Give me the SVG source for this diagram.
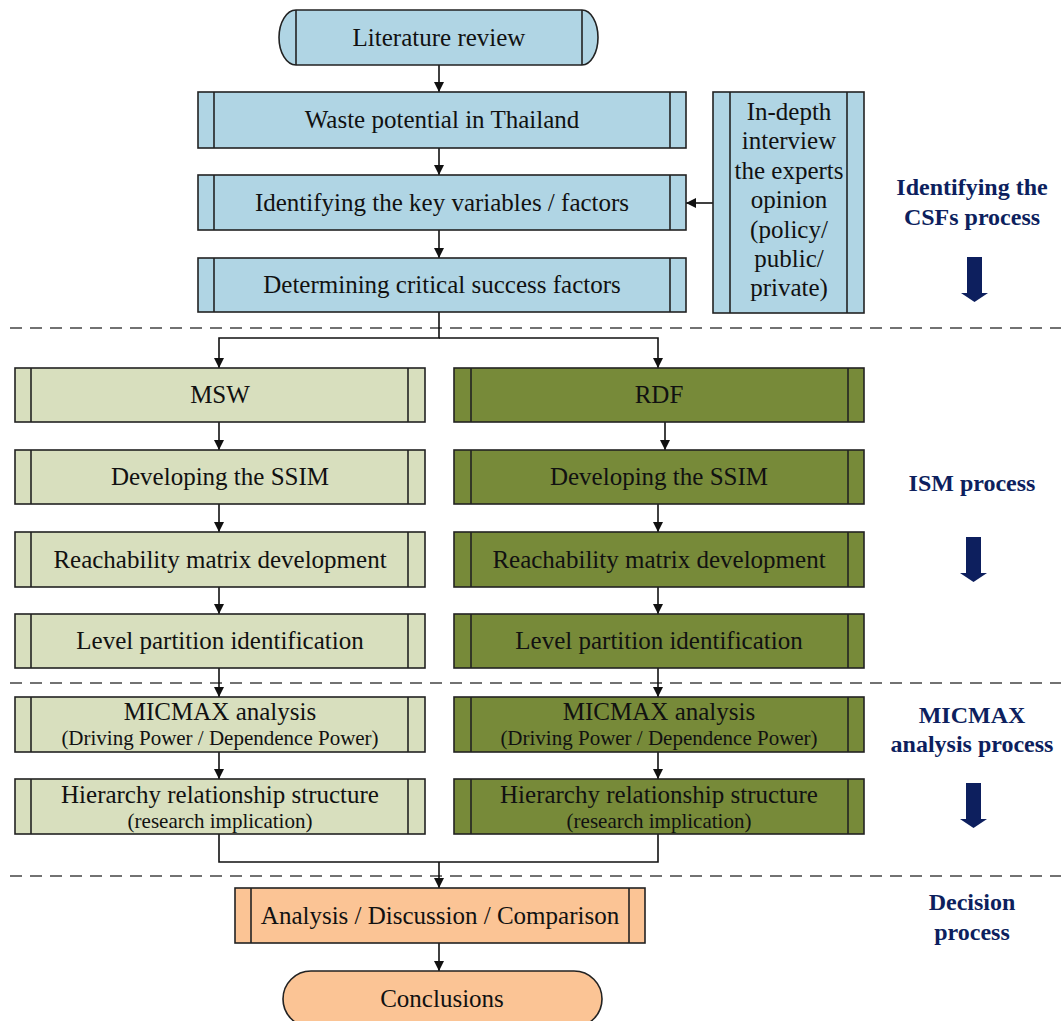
<svg xmlns="http://www.w3.org/2000/svg" width="1061" height="1021" viewBox="0 0 1061 1021">
<defs>
<marker id="ah" markerUnits="userSpaceOnUse" markerWidth="12" markerHeight="10" refX="10" refY="5" orient="auto">
<path d="M0,0 L10,5 L0,10 Z" fill="#111"/>
</marker>
<style>
.bx{stroke:#222;stroke-width:1.6}
.blue{fill:#b0d5e4}
.msw{fill:#d8dfbe}
.rdf{fill:#778a39}
.org{fill:#fbc495}
.in{stroke:#222;stroke-width:1.6;fill:none}
.t{font-family:"Liberation Serif","Times New Roman",serif;font-size:25px;fill:#111;text-anchor:middle}
.s{font-size:21px}
.lab{font-family:"Liberation Serif","Times New Roman",serif;font-size:24px;font-weight:bold;fill:#0d1f5e;text-anchor:middle}
.c{stroke:#111;stroke-width:1.6;fill:none}
.dash{stroke:#444;stroke-width:1.6;stroke-dasharray:12 8;fill:none}
.big{fill:#0d1f5e}
</style>
</defs>
<rect width="1061" height="1021" fill="#fff"/>

<g id="separators">
<line class="dash" x1="10" y1="328" x2="1061" y2="328"/>
<line class="dash" x1="10" y1="683" x2="1061" y2="683"/>
<line class="dash" x1="10" y1="876" x2="1061" y2="876"/>
</g>

<g id="connectors">
<line class="c" x1="439" y1="65" x2="439" y2="92" marker-end="url(#ah)"/>
<line class="c" x1="439" y1="148" x2="439" y2="175" marker-end="url(#ah)"/>
<line class="c" x1="439" y1="230" x2="439" y2="258" marker-end="url(#ah)"/>
<line class="c" x1="713" y1="203" x2="686" y2="203" marker-end="url(#ah)"/>
<path class="c" d="M439,312 V338 H219 V368" marker-end="url(#ah)"/>
<path class="c" d="M439,338 H658 V368" marker-end="url(#ah)"/>
<line class="c" x1="219" y1="422" x2="219" y2="450" marker-end="url(#ah)"/>
<line class="c" x1="219" y1="504" x2="219" y2="532" marker-end="url(#ah)"/>
<line class="c" x1="219" y1="587" x2="219" y2="614" marker-end="url(#ah)"/>
<line class="c" x1="219" y1="668" x2="219" y2="697" marker-end="url(#ah)"/>
<line class="c" x1="219" y1="752" x2="219" y2="779" marker-end="url(#ah)"/>
<line class="c" x1="665" y1="422" x2="665" y2="450" marker-end="url(#ah)"/>
<line class="c" x1="658" y1="504" x2="658" y2="532" marker-end="url(#ah)"/>
<line class="c" x1="658" y1="587" x2="658" y2="614" marker-end="url(#ah)"/>
<line class="c" x1="658" y1="668" x2="658" y2="697" marker-end="url(#ah)"/>
<line class="c" x1="658" y1="752" x2="658" y2="779" marker-end="url(#ah)"/>
<path class="c" d="M219,834 V862 H658 V834"/>
<line class="c" x1="439" y1="862" x2="439" y2="888" marker-end="url(#ah)"/>
<line class="c" x1="439" y1="943" x2="439" y2="971" marker-end="url(#ah)"/>
</g>

<g id="literature-review">
<path class="bx blue" d="M296,10 H582 A16,27.5 0 0 1 582,65 H296 A17,27.5 0 0 1 296,10 Z"/>
<line class="in" x1="296" y1="10" x2="296" y2="65"/>
<line class="in" x1="582" y1="10" x2="582" y2="65"/>
<text class="t" x="439" y="46">Literature review</text>
</g>

<g id="waste-potential">
<rect class="bx blue" x="198" y="92" width="488" height="56"/>
<line class="in" x1="214" y1="92" x2="214" y2="148"/>
<line class="in" x1="670" y1="92" x2="670" y2="148"/>
<text class="t" x="442" y="128">Waste potential in Thailand</text>
</g>

<g id="identifying-key">
<rect class="bx blue" x="198" y="175" width="488" height="55"/>
<line class="in" x1="214" y1="175" x2="214" y2="230"/>
<line class="in" x1="670" y1="175" x2="670" y2="230"/>
<text class="t" x="442" y="211">Identifying the key variables / factors</text>
</g>

<g id="determining-csf">
<rect class="bx blue" x="198" y="258" width="488" height="54"/>
<line class="in" x1="214" y1="258" x2="214" y2="312"/>
<line class="in" x1="670" y1="258" x2="670" y2="312"/>
<text class="t" x="442" y="293">Determining critical success factors</text>
</g>

<g id="interview">
<rect class="bx blue" x="713" y="92" width="151" height="221"/>
<line class="in" x1="730" y1="92" x2="730" y2="313"/>
<line class="in" x1="847" y1="92" x2="847" y2="313"/>
<text class="t" x="789" y="120">In-depth</text>
<text class="t" x="789" y="149">interview</text>
<text class="t" x="789" y="179">the experts</text>
<text class="t" x="789" y="208">opinion</text>
<text class="t" x="789" y="238">(policy/</text>
<text class="t" x="789" y="267">public/</text>
<text class="t" x="789" y="296">private)</text>
</g>

<g id="msw">
<rect class="bx msw" x="15" y="368" width="410" height="54"/>
<line class="in" x1="31" y1="368" x2="31" y2="422"/>
<line class="in" x1="408" y1="368" x2="408" y2="422"/>
<text class="t" x="220" y="403">MSW</text>
</g>
<g id="msw-ssim">
<rect class="bx msw" x="15" y="450" width="410" height="54"/>
<line class="in" x1="31" y1="450" x2="31" y2="504"/>
<line class="in" x1="408" y1="450" x2="408" y2="504"/>
<text class="t" x="220" y="485">Developing the SSIM</text>
</g>
<g id="msw-reach">
<rect class="bx msw" x="15" y="532" width="410" height="55"/>
<line class="in" x1="31" y1="532" x2="31" y2="587"/>
<line class="in" x1="408" y1="532" x2="408" y2="587"/>
<text class="t" x="220" y="568">Reachability matrix development</text>
</g>
<g id="msw-level">
<rect class="bx msw" x="15" y="614" width="410" height="54"/>
<line class="in" x1="31" y1="614" x2="31" y2="668"/>
<line class="in" x1="408" y1="614" x2="408" y2="668"/>
<text class="t" x="220" y="649">Level partition identification</text>
</g>
<g id="msw-micmax">
<rect class="bx msw" x="15" y="697" width="410" height="55"/>
<line class="in" x1="31" y1="697" x2="31" y2="752"/>
<line class="in" x1="408" y1="697" x2="408" y2="752"/>
<text class="t" x="220" y="720">MICMAX analysis</text>
<text class="t s" x="220" y="745">(Driving Power / Dependence Power)</text>
</g>
<g id="msw-hierarchy">
<rect class="bx msw" x="15" y="779" width="410" height="55"/>
<line class="in" x1="31" y1="779" x2="31" y2="834"/>
<line class="in" x1="408" y1="779" x2="408" y2="834"/>
<text class="t" x="220" y="803">Hierarchy relationship structure</text>
<text class="t s" x="220" y="828">(research implication)</text>
</g>

<g id="rdf">
<rect class="bx rdf" x="454" y="368" width="410" height="54"/>
<line class="in" x1="471" y1="368" x2="471" y2="422"/>
<line class="in" x1="848" y1="368" x2="848" y2="422"/>
<text class="t" x="659" y="403">RDF</text>
</g>
<g id="rdf-ssim">
<rect class="bx rdf" x="454" y="450" width="410" height="54"/>
<line class="in" x1="471" y1="450" x2="471" y2="504"/>
<line class="in" x1="848" y1="450" x2="848" y2="504"/>
<text class="t" x="659" y="485">Developing the SSIM</text>
</g>
<g id="rdf-reach">
<rect class="bx rdf" x="454" y="532" width="410" height="55"/>
<line class="in" x1="471" y1="532" x2="471" y2="587"/>
<line class="in" x1="848" y1="532" x2="848" y2="587"/>
<text class="t" x="659" y="568">Reachability matrix development</text>
</g>
<g id="rdf-level">
<rect class="bx rdf" x="454" y="614" width="410" height="54"/>
<line class="in" x1="471" y1="614" x2="471" y2="668"/>
<line class="in" x1="848" y1="614" x2="848" y2="668"/>
<text class="t" x="659" y="649">Level partition identification</text>
</g>
<g id="rdf-micmax">
<rect class="bx rdf" x="454" y="697" width="410" height="55"/>
<line class="in" x1="471" y1="697" x2="471" y2="752"/>
<line class="in" x1="848" y1="697" x2="848" y2="752"/>
<text class="t" x="659" y="720">MICMAX analysis</text>
<text class="t s" x="659" y="745">(Driving Power / Dependence Power)</text>
</g>
<g id="rdf-hierarchy">
<rect class="bx rdf" x="454" y="779" width="410" height="55"/>
<line class="in" x1="471" y1="779" x2="471" y2="834"/>
<line class="in" x1="848" y1="779" x2="848" y2="834"/>
<text class="t" x="659" y="803">Hierarchy relationship structure</text>
<text class="t s" x="659" y="828">(research implication)</text>
</g>

<g id="analysis">
<rect class="bx org" x="235" y="888" width="410" height="55"/>
<line class="in" x1="251" y1="888" x2="251" y2="943"/>
<line class="in" x1="629" y1="888" x2="629" y2="943"/>
<text class="t" x="440" y="924">Analysis / Discussion / Comparison</text>
</g>

<g id="conclusions">
<rect class="bx org" x="283" y="971" width="319" height="56" rx="28" ry="28"/>
<text class="t" x="442" y="1007">Conclusions</text>
</g>

<g id="stage-labels">
<text class="lab" x="972" y="195">Identifying the</text>
<text class="lab" x="972" y="225">CSFs process</text>
<path class="big" d="M967,257 H982 V293 H988 L974.5,302 L961,293 H967 Z"/>
<text class="lab" x="972" y="491">ISM process</text>
<path class="big" d="M966,537 H981 V573 H987 L973.5,582 L960,573 H966 Z"/>
<text class="lab" x="972" y="723">MICMAX</text>
<text class="lab" x="972" y="752">analysis process</text>
<path class="big" d="M966,783 H981 V819 H987 L973.5,828 L960,819 H966 Z"/>
<text class="lab" x="972" y="910">Decision</text>
<text class="lab" x="972" y="940">process</text>
</g>
</svg>
